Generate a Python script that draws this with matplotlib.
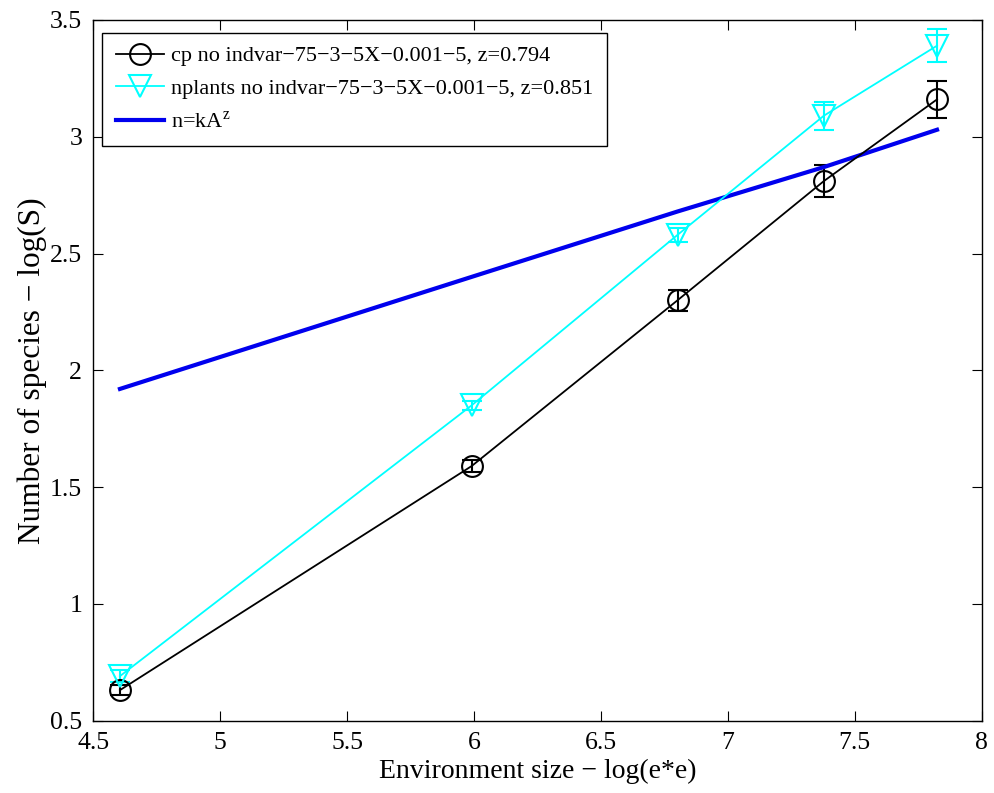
import numpy as np
import matplotlib
matplotlib.use("Agg")
import matplotlib.pyplot as plt
from matplotlib.lines import Line2D

plt.rcParams['font.family'] = ['Liberation Serif', 'DejaVu Serif']
plt.rcParams['mathtext.fontset'] = 'custom'
plt.rcParams['mathtext.rm'] = 'Liberation Serif'

# log(e*e) environment sizes
env_size = [4.605, 5.991, 6.802, 7.378, 7.824]

cp_mean = [0.63, 1.59, 2.30, 2.81, 3.16]
cp_err = [0.02, 0.025, 0.045, 0.07, 0.08]

nplants_mean = [0.69, 1.85, 2.58, 3.09, 3.39]
nplants_err = [0.025, 0.02, 0.03, 0.06, 0.07]

fit_vals = [1.92, 2.40, 2.68, 2.87, 3.03]

cp_label = "cp no indvar\u221275\u22123\u22125X\u22120.001\u22125, z=0.794"
np_label = "nplants no indvar\u221275\u22123\u22125X\u22120.001\u22125, z=0.851"
fit_label = "n=kA$^\\mathregular{z}$"

fig = plt.figure(figsize=(9.95, 7.93), dpi=100)
ax = fig.add_axes([93.3 / 995, 72.5 / 793, 888.4 / 995, 700.5 / 793])

ax.errorbar(env_size, cp_mean, yerr=cp_err, color='black', lw=1.3, marker='o',
            mfc='none', mec='black', ms=15, mew=1.5, capsize=7, elinewidth=1.5,
            capthick=1.5)
ax.errorbar(env_size, nplants_mean, yerr=nplants_err, color='cyan', lw=1.3, marker='v',
            mfc='none', mec='cyan', ms=16, mew=1.5, capsize=7, elinewidth=1.5,
            capthick=1.5)
ax.plot(env_size, fit_vals, color='#0000ee', lw=3)

ax.set_xlim(4.5, 8)
ax.set_ylim(0.5, 3.5)
ax.set_xticks(np.arange(4.5, 8.01, 0.5))
ax.set_yticks(np.arange(0.5, 3.51, 0.5))
ax.set_xticklabels(['4.5', '5', '5.5', '6', '6.5', '7', '7.5', '8'])
ax.set_yticklabels(['0.5', '1', '1.5', '2', '2.5', '3', '3.5'])
ax.tick_params(direction='in', top=True, right=True, labelsize=18.5, length=7, pad=8)
for s in ax.spines.values():
    s.set_linewidth(1.0)

ax.set_xlabel("Environment size \u2212 log(e*e)", fontsize=20, labelpad=4)
ax.set_ylabel("Number of species \u2212 log(S)", fontsize=22.5, labelpad=2)

handles = [
    Line2D([], [], color='black', lw=1.3, marker='o', mfc='none', mec='black', ms=15, mew=1.5),
    Line2D([], [], color='cyan', lw=1.3, marker='v', mfc='none', mec='cyan', ms=16, mew=1.5),
    Line2D([], [], color='#0000ee', lw=3),
]
leg = ax.legend(handles, [cp_label, np_label, fit_label], loc='upper left',
                bbox_to_anchor=(0.01, 0.982), fontsize=16, frameon=True, fancybox=False,
                edgecolor='black', framealpha=1, handlelength=2.2, borderpad=0.6,
                labelspacing=0.55, handletextpad=0.3, borderaxespad=0)
leg.get_frame().set_linewidth(1.0)

fig.savefig("out.png", dpi=100)
